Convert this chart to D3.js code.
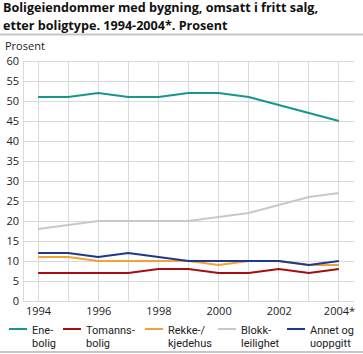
<!DOCTYPE html>
<html>
<head>
<meta charset="utf-8">
<script src="https://cdn.jsdelivr.net/npm/d3@7.9.0/dist/d3.min.js"></script>
<style>
  body { margin: 0; background: #fff; }
  svg { display: block; font-family: "Open Sans", "Noto Sans", sans-serif; }
</style>
</head>
<body>
<svg id="chart" width="363" height="354"></svg>
<script>
// Years and share (%) per dwelling type
const years = [1994, 1995, 1996, 1997, 1998, 1999, 2000, 2001, 2002, 2003, 2004];
const enebolig = [51, 51, 52, 51, 51, 52, 52, 51, 49, 47, 45];
const tomannsbolig = [7, 7, 7, 7, 8, 8, 7, 7, 8, 7, 8];
const rekkehus = [11, 11, 10, 10, 10, 10, 9, 10, 10, 9, 9];
const blokk = [18, 19, 20, 20, 20, 20, 21, 22, 24, 26, 27];
const annet = [12, 12, 11, 12, 11, 10, 10, 10, 10, 9, 10];
const yTicks = [0, 5, 10, 15, 20, 25, 30, 35, 40, 45, 50, 55, 60];
const xTickLabels = ["1994", "1996", "1998", "2000", "2002", "2004*"];

const series = [
  { name: ["Ene-", "bolig"], values: enebolig, color: "#17958f" },
  { name: ["Tomanns-", "bolig"], values: tomannsbolig, color: "#a3100f" },
  { name: ["Rekke-/", "kjedehus"], values: rekkehus, color: "#f7a035" },
  { name: ["Blokk-", "leilighet"], values: blokk, color: "#c8c8c8" },
  { name: ["Annet og", "uoppgitt"], values: annet, color: "#1d3a8f" }
];

const svg = d3.select("#chart");
const margin = { left: 23, right: 9, top: 61, bottom: 53 };
const W = 363, H = 354;

// Title
const title = svg.append("text").attr("font-weight", "bold").attr("font-size", 12.6).attr("fill", "#111");
title.append("tspan").attr("x", 3).attr("y", 12).text("Boligeiendommer med bygning, omsatt i fritt salg,");
title.append("tspan").attr("x", 3).attr("y", 29.5).text("etter boligtype. 1994-2004*. Prosent");
svg.append("line").attr("x1", 0).attr("x2", W).attr("y1", 34.5).attr("y2", 34.5)
  .attr("stroke", "#c6c6c6").attr("stroke-width", 2);

svg.append("text").attr("x", 5).attr("y", 50).attr("font-size", 11).attr("fill", "#222").text("Prosent");

const x = d3.scaleLinear().domain([1993.5, 2004.5]).range([margin.left, W - margin.right]);
const y = d3.scaleLinear().domain([0, 60]).range([H - margin.bottom, margin.top]);

// Grid
const grid = svg.append("g").attr("stroke", "#d9d9d9").attr("stroke-width", 1).attr("shape-rendering", "crispEdges");
yTicks.forEach(t => {
  grid.append("line").attr("x1", x(1993.5)).attr("x2", x(2004.5)).attr("y1", y(t)).attr("y2", y(t));
});
grid.append("line").attr("x1", x(1993.5)).attr("x2", x(1993.5)).attr("y1", y(60)).attr("y2", y(0));
years.forEach(yr => {
  grid.append("line").attr("x1", x(yr)).attr("x2", x(yr)).attr("y1", y(60)).attr("y2", y(0));
});

// Y axis labels
const yAxis = d3.axisLeft(y).tickValues(yTicks).tickSize(0).tickPadding(4);
svg.append("g").attr("transform", `translate(${margin.left},0)`).call(yAxis)
  .call(g => g.select(".domain").remove())
  .call(g => g.selectAll("text").attr("font-size", 11).attr("fill", "#222")
    .attr("font-family", "'Open Sans', 'Noto Sans', sans-serif"));

// X axis labels
const xAxis = d3.axisBottom(x).tickValues([1994, 1996, 1998, 2000, 2002, 2004])
  .tickFormat((d, i) => xTickLabels[i]).tickSize(0).tickPadding(6);
svg.append("g").attr("transform", `translate(0,${y(0)})`).call(xAxis)
  .call(g => g.select(".domain").remove())
  .call(g => g.selectAll("text").attr("font-size", 11).attr("fill", "#222")
    .attr("font-family", "'Open Sans', 'Noto Sans', sans-serif"));

// Lines
const line = d3.line().x((d, i) => x(years[i])).y(d => y(d));
series.forEach(s => {
  svg.append("path").datum(s.values).attr("d", line)
    .attr("fill", "none").attr("stroke", s.color).attr("stroke-width", 2)
    .attr("stroke-linejoin", "round");
});

// Legend - compact font so the two label lines don't collide
const legendX = [9, 63, 145, 218, 287];
series.forEach((s, i) => {
  const g = svg.append("g").attr("transform", `translate(${legendX[i]},329)`);
  g.append("line").attr("x1", 0).attr("x2", 18).attr("y1", 0).attr("y2", 0)
    .attr("stroke", s.color).attr("stroke-width", 2);
  const t = g.append("text").attr("font-size", 11).attr("fill", "#222")
    .attr("font-family", "Roboto, 'DejaVu Sans', sans-serif");
  s.name.forEach((n, j) => {
    t.append("tspan").attr("x", 23).attr("y", 5 + j * 13).text(n);
  });
});
svg.append("line").attr("x1", 0).attr("x2", W).attr("y1", 352).attr("y2", 352)
  .attr("stroke", "#c6c6c6").attr("stroke-width", 2);
</script>
</body>
</html>
